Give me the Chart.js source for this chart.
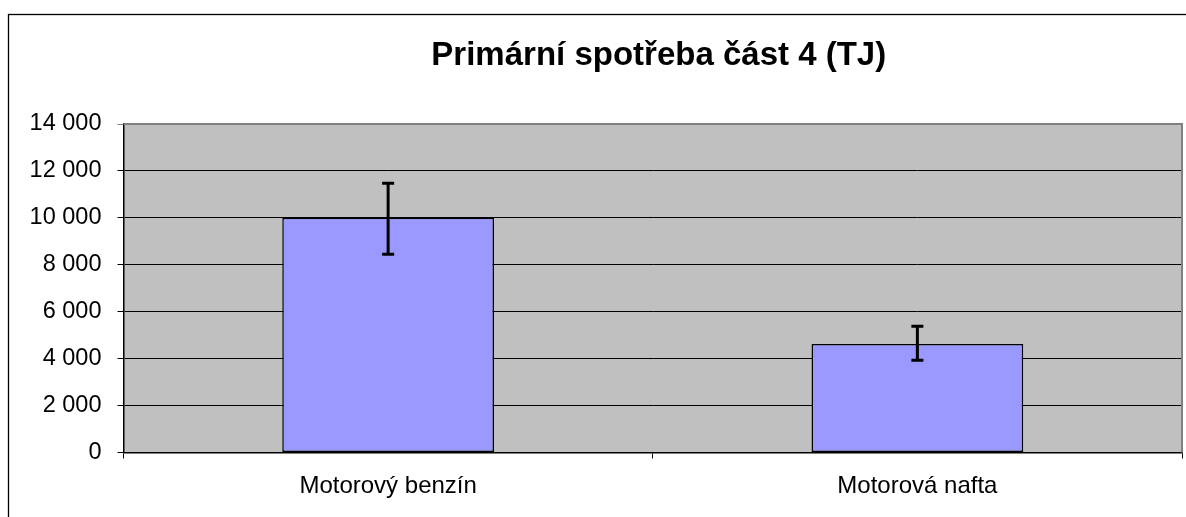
<!DOCTYPE html>
<html>
<head>
<meta charset="utf-8">
<script src="https://cdn.jsdelivr.net/npm/chart.js@4/dist/chart.umd.min.js"></script>
<style>
  html, body { margin: 0; padding: 0; background: #fff; }
  #wrap { position: relative; width: 1186px; height: 517px; }
</style>
</head>
<body>
<div id="wrap"><canvas id="c" width="1186" height="517"></canvas></div>
<script>
const titleText = 'Primární spotřeba část 4 (TJ)';
const categories = ['Motorový benzín', 'Motorová nafta'];
const values = [10000, 4620];
const errHigh = [11480, 5380];
const errLow = [8450, 3930];
const yTicks = [0, 2000, 4000, 6000, 8000, 10000, 12000, 14000];
const yTickLabels = ['0', '2 000', '4 000', '6 000', '8 000', '10 000', '12 000', '14 000'];

const FONT = "'Liberation Sans', Arial, sans-serif";

const framePlugin = {
  id: 'frame',
  afterLayout(chart) {
    if (chart.titleBlock) {
      chart.titleBlock.left += 12;
    }
  },
  beforeDraw(chart) {
    const ctx = chart.ctx, a = chart.chartArea;
    ctx.save();
    ctx.fillStyle = '#fff';
    ctx.fillRect(0, 0, chart.width, chart.height);
    ctx.strokeStyle = '#000';
    ctx.lineWidth = 1.3;
    ctx.strokeRect(8.5, 14.5, 1400, 700);
    ctx.fillStyle = '#C0C0C0';
    ctx.fillRect(a.left, a.top, a.right - a.left, a.bottom - a.top);
    ctx.restore();
  },
  afterDraw(chart) {
    const ctx = chart.ctx, a = chart.chartArea;
    ctx.save();
    ctx.strokeStyle = '#808080';
    ctx.lineWidth = 2;
    ctx.beginPath();
    ctx.moveTo(a.left, a.top);
    ctx.lineTo(a.right, a.top);
    ctx.lineTo(a.right, a.bottom);
    ctx.stroke();
    ctx.restore();
  }
};

const errorBarPlugin = {
  id: 'errorBars',
  afterDatasetsDraw(chart) {
    const ctx = chart.ctx;
    const meta = chart.getDatasetMeta(0);
    const y = chart.scales.y;
    ctx.save();
    ctx.strokeStyle = '#000';
    ctx.lineWidth = 3;
    meta.data.forEach((bar, i) => {
      const x = bar.x;
      const yh = y.getPixelForValue(errHigh[i]);
      const yl = y.getPixelForValue(errLow[i]);
      ctx.beginPath();
      ctx.moveTo(x, yh);
      ctx.lineTo(x, yl);
      ctx.moveTo(x - 6, yh);
      ctx.lineTo(x + 6, yh);
      ctx.moveTo(x - 6, yl);
      ctx.lineTo(x + 6, yl);
      ctx.stroke();
    });
    ctx.restore();
  }
};

new Chart(document.getElementById('c'), {
  type: 'bar',
  data: {
    labels: categories,
    datasets: [{
      data: values,
      backgroundColor: '#9999FF',
      borderColor: '#000',
      borderWidth: 1.5,
      borderSkipped: false,
      categoryPercentage: 1,
      barPercentage: 0.4
    }]
  },
  plugins: [framePlugin, errorBarPlugin],
  options: {
    responsive: false,
    animation: false,
    devicePixelRatio: 1,
    layout: { padding: { left: 0, right: 4, top: 0, bottom: 0 } },
    plugins: {
      legend: { display: false },
      tooltip: { enabled: false },
      title: {
        display: true,
        text: titleText,
        fullSize: false,
        color: '#000',
        font: { family: FONT, size: 33, weight: 'bold', lineHeight: 1.2 },
        padding: { top: 36, bottom: 48.4 }
      }
    },
    scales: {
      x: {
        afterFit(s) { s.height = 64.5; },
        grid: {
          offset: true,
          drawOnChartArea: false,
          drawTicks: true,
          tickLength: 6,
          color: '#000',
          lineWidth: 1
        },
        border: { display: true, color: '#000', width: 1.5 },
        ticks: {
          color: '#000',
          padding: 13,
          font: { family: FONT, size: 24 }
        }
      },
      y: {
        min: 0,
        max: 14000,
        afterFit(s) { s.width = 123.5; },
        afterBuildTicks(s) { s.ticks = yTicks.map(v => ({ value: v })); },
        grid: {
          drawTicks: true,
          tickLength: 6,
          color: (c) => (c.tick && c.tick.value === 14000 ? '#808080' : '#000'),
          lineWidth: 1
        },
        border: { display: true, color: '#000', width: 1.5 },
        ticks: {
          color: '#000',
          padding: 16,
          font: { family: FONT, size: 23.5 },
          callback: (v) => yTickLabels[yTicks.indexOf(v)]
        }
      }
    }
  }
});
</script>
</body>
</html>
